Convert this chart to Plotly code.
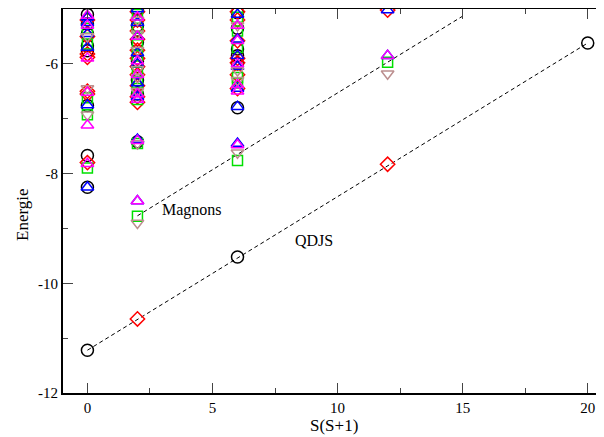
import plotly.graph_objects as go

# S(S+1) columns and energy levels per symmetry series
black_x = [0, 0, 0, 0, 0, 0, 0, 0, 2, 2, 2, 2, 2, 2, 2, 2, 6, 6, 6, 6, 6, 6, 0, 6, 20]
black_y = [-5.1, -5.27, -5.45, -5.67, -5.76, -6.76, -7.67, -8.25,
           -5.0, -5.3, -5.6, -5.95, -6.05, -6.3, -6.55, -7.42,
           -5.07, -5.35, -5.73, -5.85, -6.0, -6.8,
           -11.22, -9.52, -5.62]

red_x = [0, 0, 0, 0, 0, 0, 0,
         2, 2, 2, 2, 2, 2, 2, 2, 2, 2, 2,
         6, 6, 6, 6, 6, 6, 6,
         12, 2, 12]
red_y = [-5.2, -5.5, -5.82, -5.88, -6.5, -6.55, -7.8,
         -5.05, -5.2, -5.4, -5.55, -5.75, -5.9, -6.05, -6.2, -6.4, -6.6, -6.7,
         -5.05, -5.2, -5.58, -5.9, -5.98, -6.2, -6.45,
         -5.02, -10.65, -7.83]

green_x = [0, 0, 0, 0, 0,
           2, 2, 2, 2, 2, 2, 2, 2, 2, 2,
           6, 6, 6, 6, 6, 6,
           12]
green_y = [-5.35, -5.64, -6.62, -6.93, -7.9,
           -5.1, -5.35, -5.65, -5.85, -6.15, -6.35, -6.45, -6.65, -7.45, -8.78,
           -5.15, -5.4, -5.7, -6.25, -6.35, -7.76,
           -5.97]

blue_x = [0, 0, 0, 0, 0, 0,
          2, 2, 2, 2, 2, 2, 2, 2, 2,
          6, 6, 6, 6, 6, 6, 6,
          12, 12]
blue_y = [-5.15, -5.25, -5.45, -5.7, -6.75, -8.25,
          -5.0, -5.25, -5.5, -5.8, -6.0, -6.35, -6.6, -7.38, -8.5,
          -5.1, -5.55, -5.85, -6.05, -6.45, -6.78, -7.45,
          -5.02, -5.85]

brown_x = [0, 0, 0,
           2, 2, 2, 2, 2, 2, 2, 2,
           6, 6, 6, 6,
           12]
brown_y = [-5.5, -6.45, -6.93,
           -5.2, -5.45, -5.75, -6.1, -6.25, -6.5, -7.45, -8.9,
           -5.3, -6.12, -6.3, -7.62,
           -6.18]

magenta_x = [0, 0, 0, 0, 0, 0,
             2, 2, 2, 2, 2, 2, 2, 2,
             6, 6, 6, 6, 6, 6,
             12]
magenta_y = [-5.12, -5.3, -5.9, -6.52, -7.12, -7.82,
             -5.15, -5.5, -5.95, -6.2, -6.55, -6.65, -7.4, -8.5,
             -5.3, -5.58, -6.0, -6.38, -6.5, -7.48,
             -5.85]

# Fitted lines
qdjs_x = [0, 20]
qdjs_y = [-11.22, -5.62]
magnon_x = [2, 15]
magnon_y = [-8.77, -5.13]

x_ticks = [0, 5, 10, 15, 20]
x_tick_labels = ["0", "5", "10", "15", "20"]
y_ticks = [-12, -10, -8, -6]
y_tick_labels = ["-12", "-10", "-8", "-6"]

fig = go.Figure()

for lx, ly in [(qdjs_x, qdjs_y), (magnon_x, magnon_y)]:
    fig.add_trace(go.Scatter(x=lx, y=ly, mode="lines",
                             line=dict(color="black", width=1, dash="4px,3px"),
                             showlegend=False, hoverinfo="skip"))

series = [
    (black_x, black_y, "black", "circle-open", 12),
    (red_x, red_y, "red", "diamond-open", 11),
    (green_x, green_y, "#00e000", "square-open", 10),
    (blue_x, blue_y, "blue", "triangle-up-open", 11),
    (brown_x, brown_y, "#bc8f8f", "triangle-down-open", 11),
    (magenta_x, magenta_y, "#ff00ff", "triangle-up-open", 11),
]
for xs, ys, col, sym, sz in series:
    fig.add_trace(go.Scatter(x=xs, y=ys, mode="markers",
                             marker=dict(symbol=sym, size=sz, color=col,
                                         line=dict(color=col, width=1.5)),
                             showlegend=False))

font_family = "Liberation Serif, Times New Roman, serif"

# page body has an 8px margin: compensate so the page matches the target
W, H = 596, 429
L, R, T, B = 55, 0, 1, 44
pw, ph = W - L - R, H - T - B


def paper(px, py):
    return (px - 8 - L) / pw, 1 - (py - 8 - T) / ph


sx, sy = paper(334, 425)
ex, ey = paper(22, 215)

fig.update_layout(
    width=W, height=H,
    margin=dict(l=L, r=R, t=T, b=B, autoexpand=False),
    paper_bgcolor="white", plot_bgcolor="white",
    font=dict(family=font_family, size=14, color="black"),
    showlegend=False,
    xaxis=dict(range=[-0.976, 20.65], tickvals=x_ticks, ticktext=x_tick_labels,
               ticks="inside", ticklen=10,
               tickwidth=1, tickcolor="#444", showline=True, linecolor="black",
               linewidth=2, mirror="ticks", showgrid=False, zeroline=False,
               automargin=False,
               minor=dict(dtick=2.5, tick0=0, ticks="inside", ticklen=5,
                          tickcolor="#444", showgrid=False),
               tickfont=dict(size=15)),
    yaxis=dict(range=[-12, -5], tickvals=y_ticks, ticktext=y_tick_labels,
               ticks="inside", ticklen=10,
               tickwidth=1, tickcolor="#444", showline=True, linecolor="black",
               linewidth=2, mirror=False, showgrid=False, zeroline=False,
               automargin=False,
               minor=dict(dtick=1, tick0=0, ticks="inside", ticklen=5,
                          tickcolor="#444", showgrid=False),
               tickfont=dict(size=15)),
    annotations=[
        dict(text="Magnons", x=2.9, y=-8.67, xref="x", yref="y", showarrow=False,
             xanchor="left", yanchor="middle", font=dict(size=16)),
        dict(text="QDJS", x=8.2, y=-9.22, xref="x", yref="y", showarrow=False,
             xanchor="left", yanchor="middle", font=dict(size=16)),
        dict(text="S(S+1)", x=sx, y=sy, xref="paper", yref="paper", showarrow=False,
             xanchor="center", yanchor="middle", font=dict(size=17)),
        dict(text="Energie", x=ex, y=ey, xref="paper", yref="paper", showarrow=False,
             xanchor="center", yanchor="middle", textangle=-90, font=dict(size=17)),
    ],
)

fig.write_html("out.html")
